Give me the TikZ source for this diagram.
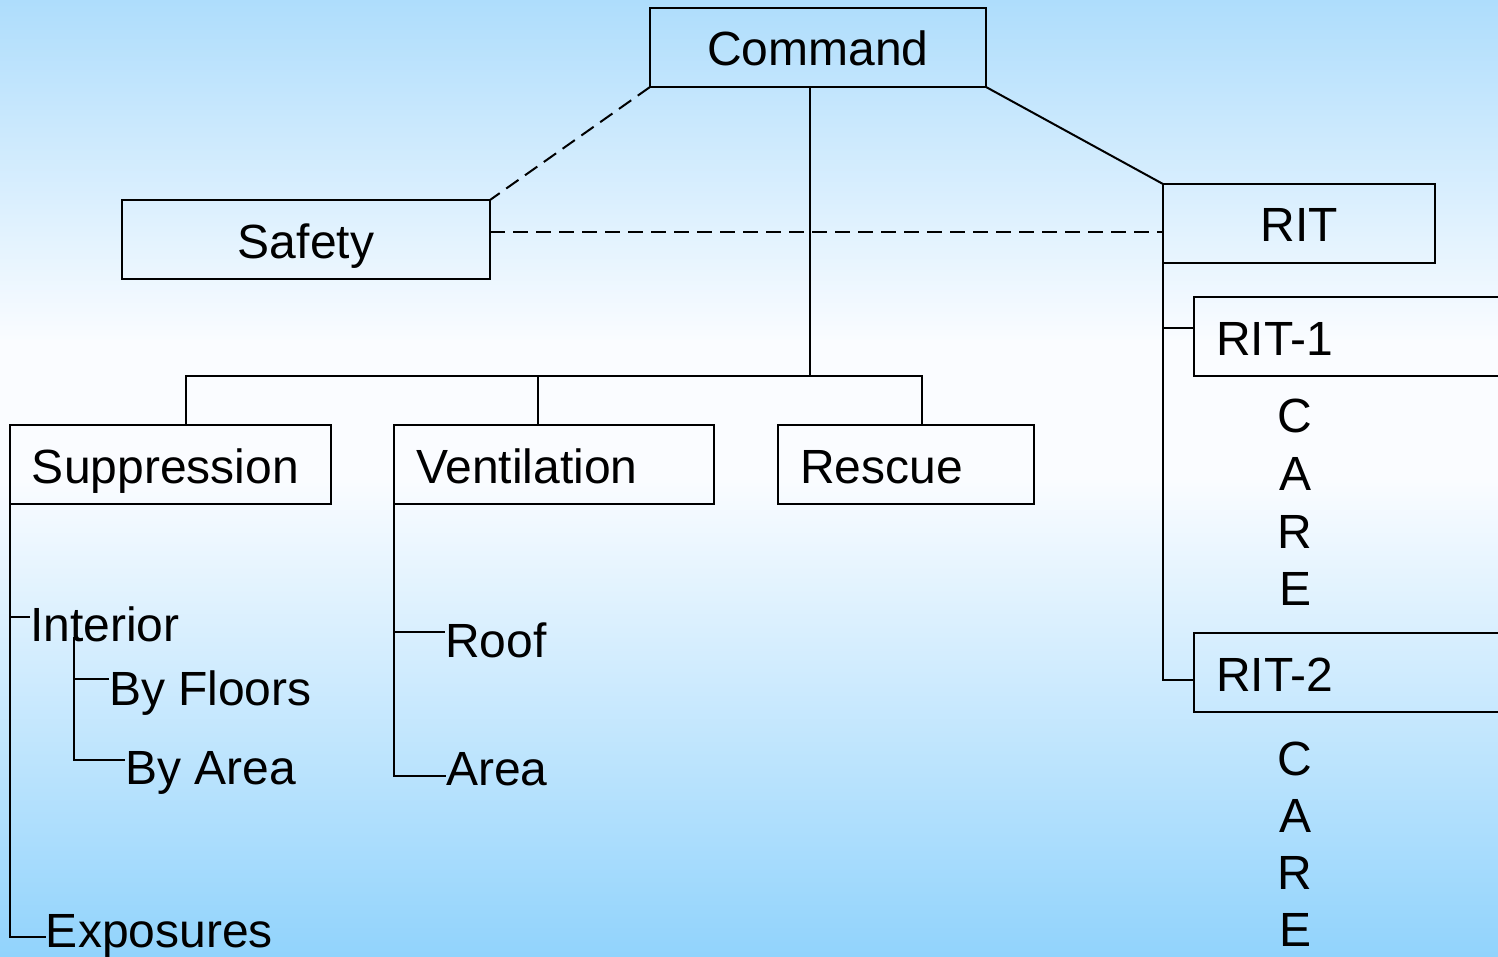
\documentclass[tikz,border=0pt]{standalone}
\usepackage{fontspec}
\setmainfont{Liberation Sans}
\definecolor{bgtop}{RGB}{174,221,252}
\definecolor{bgmid}{RGB}{250,252,255}
\definecolor{bgbot}{RGB}{145,211,252}
\begin{document}
\begin{tikzpicture}[x=0.5pt,y=-0.5pt, line width=1pt,
  every node/.style={font=\fontsize{24}{28}\selectfont, inner sep=0pt, outer sep=0pt},
  cbox/.style={draw, anchor=north west, text height=29pt, text depth=10.5pt, align=center},
  lbox/.style={draw, anchor=north west, text height=29pt, text depth=10.5pt, inner xsep=11pt, align=left},
  lbl/.style={anchor=base west},
  letter/.style={anchor=base},
  dsh/.style={dash pattern=on 7.5pt off 4pt}]
\useasboundingbox (0,0) rectangle (1498,957);
\clip (0,0) rectangle (1498,957);
% background
\shade[top color=bgtop, bottom color=bgmid] (0,0) rectangle (1498,341);
\fill[bgmid] (0,340) rectangle (1498,481);
\shade[top color=bgmid, bottom color=bgbot] (0,480) rectangle (1498,957);
% boxes
\node[cbox, minimum width=168pt] (cmd) at (650,8) {Command};
\node[cbox, minimum width=184pt] (safety) at (122,200) {Safety};
\node[cbox, minimum width=136pt] (rit) at (1163,184) {RIT};
\node[lbox, text width=132pt] (rit1) at (1194,297) {RIT-1};
\node[lbox, text width=132pt] (rit2) at (1194,633) {RIT-2};
\node[lbox, text width=138.5pt] (supp) at (10,425) {Suppression};
\node[lbox, text width=138pt] (vent) at (394,425) {Ventilation};
\node[lbox, text width=106pt] (resc) at (778,425) {Rescue};
% plain labels
\node[lbl] (interior) at (30,641) {Interior};
\node[lbl] (bfloor) at (109,705) {By Floors};
\node[lbl] (barea) at (125,784) {By Area};
\node[lbl] (expo) at (46,947) {Exposures};
\node[lbl] (roof) at (445,657) {Roof};
\node[lbl] (area) at (446,785) {Area};
\foreach \l/\y [count=\i] in {C/432,A/490,R/548,E/605}
  \node[letter] (careA\i) at (1295,\y) {\l};
\foreach \l/\y [count=\i] in {C/775,A/832,R/889,E/946}
  \node[letter] (careB\i) at (1295,\y) {\l};
% connectors
\coordinate (cm) at (810,376);
\coordinate (bl) at (186,376);
\coordinate (bv) at (538,376);
\coordinate (br) at (922,376);
\draw (cm |- cmd.south) -- (cm);
\draw (bl |- supp.north) -- (bl) -- (br) -- (br |- resc.north);
\draw (bv) -- (bv |- vent.north);
\draw (cmd.south east) -- (rit.north west);
\draw[dsh] (cmd.south west) -- (safety.north east);
\coordinate (dy) at (0,232);
\draw[dsh] (dy -| safety.east) -- (dy -| rit.west);
% RIT branch
\coordinate (t1) at (1163,328);
\coordinate (t2) at (1163,680);
\draw (rit.south west) -- (t2) -- (t2 -| rit2.west);
\draw (t1) -- (t1 -| rit1.west);
% Suppression branch
\coordinate (s1) at (10,617);
\coordinate (s2) at (10,937);
\draw (supp.south west) -- (s2) -- (s2 -| expo.west);
\draw (s1) -- (s1 -| interior.west);
\coordinate (i0) at (74,637);
\coordinate (i1) at (74,679);
\coordinate (i2) at (74,760);
\draw (i0) -- (i2) -- (i2 -| barea.west);
\draw (i1) -- (i1 -| bfloor.west);
% Ventilation branch
\coordinate (v1) at (394,632);
\coordinate (v2) at (394,776);
\draw (vent.south west) -- (v2) -- (v2 -| area.west);
\draw (v1) -- (v1 -| roof.west);
\end{tikzpicture}
\end{document}
